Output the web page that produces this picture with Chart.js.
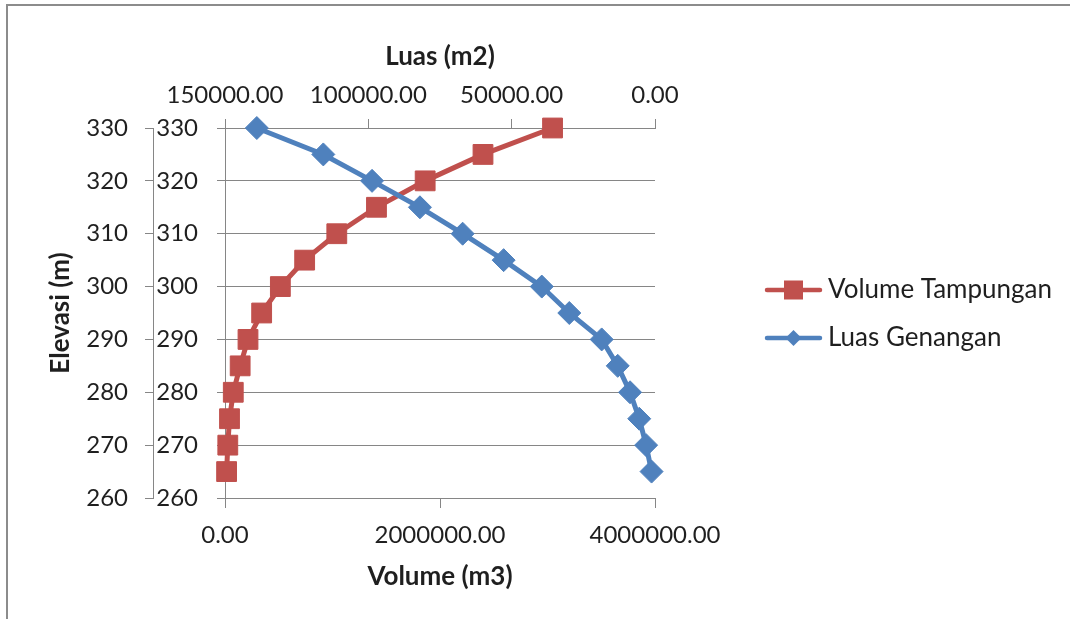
<!DOCTYPE html>
<html>
<head>
<meta charset="utf-8">
<title>Lengkung Kapasitas Waduk</title>
<script src="https://cdn.jsdelivr.net/npm/chart.js@4.4.0/dist/chart.umd.min.js"></script>
<style>
  html, body { margin: 0; padding: 0; background: #fff; }
  #wrap { position: relative; width: 1070px; height: 619px; overflow: hidden; }
  #frame { position: absolute; left: 6px; top: 4px; width: 1100px; height: 700px;
           border: 2px solid #8c8c8c; box-sizing: border-box; }
  #chart { position: absolute; left: 0; top: 0; }
</style>
</head>
<body>
<div id="wrap">
  <div id="frame"></div>
  <canvas id="chart" width="1070" height="619"></canvas>
</div>
<script>
// elevasi muka air (m) dan hasil perhitungan per elevasi
const elevasi = [265, 270, 275, 280, 285, 290, 295, 300, 305, 310, 315, 320, 325, 330];
const volumeTampungan = [15000, 26000, 42000, 77000, 141000, 214000, 341000, 515000, 741000,
                         1040000, 1409000, 1862000, 2400000, 3047000];
const luasGenangan = [1200, 3100, 5500, 8700, 13000, 18600, 29900, 39500, 52800,
                      67100, 82000, 98700, 115700, 138900];

// label sumbu
const elevasiTicks = [260, 270, 280, 290, 300, 310, 320, 330];
const volumeTicks = [0, 2000000, 4000000];
const luasTicks = [0, 50000, 100000, 150000];

const GRID = '#868686';
const TEXT = '#1f1f1f';
const RED = '#C0504D';
const BLUE = '#4F81BD';
const TICK_SIZE = 24;
const LEGEND_SIZE = 26;

Chart.defaults.font.family = 'Lato';
Chart.defaults.font.size = TICK_SIZE;
Chart.defaults.color = TEXT;

const titleFont = { family: 'Lato', size: 26, weight: 'bold' };

function fixTicks(values) {
  return scale => { scale.ticks = values.map(v => ({ value: v })); };
}

function fmt2(v) { return Number(v).toFixed(2); }

// small line + marker image used as the legend symbol
function legendMark(color, shape) {
  const c = document.createElement('canvas');
  c.width = 156;
  c.height = 26;
  const g = c.getContext('2d');
  g.strokeStyle = color;
  g.fillStyle = color;
  g.lineWidth = 4.5;
  g.lineCap = 'round';
  g.beginPath();
  g.moveTo(99, 13);
  g.lineTo(152, 13);
  g.stroke();
  const cx = 125.5;
  if (shape === 'rect') {
    g.fillRect(cx - 9.5, 3.5, 19, 19);
  } else {
    g.beginPath();
    g.moveTo(cx, 5);
    g.lineTo(cx + 8, 13);
    g.lineTo(cx, 21);
    g.lineTo(cx - 8, 13);
    g.closePath();
    g.fill();
  }
  return c;
}

const seriesNames = ['Volume Tampungan', 'Luas Genangan'];
const legendMarks = [legendMark(RED, 'rect'), legendMark(BLUE, 'diamond')];

// keep the plot's right edge fixed whatever the legend text measures
const probe = document.createElement('canvas').getContext('2d');
probe.font = LEGEND_SIZE + 'px Lato';
const legendTextW = Math.max(...seriesNames.map(n => probe.measureText(n).width));
const legendW = 22 + 138 + LEGEND_SIZE / 2 + legendTextW + 10;
const padRight = Math.max(0, 415 - legendW);

const ctx = document.getElementById('chart');

new Chart(ctx, {
  type: 'line',
  data: {
    datasets: [
      {
        label: seriesNames[0],
        data: elevasi.map((e, i) => ({ x: volumeTampungan[i], y: e })),
        xAxisID: 'x',
        yAxisID: 'y',
        borderColor: RED,
        backgroundColor: RED,
        borderWidth: 5,
        pointStyle: 'rect',
        pointRadius: 14,
        pointBorderWidth: 1,
        pointBorderColor: RED,
        pointBackgroundColor: RED,
        tension: 0,
        clip: false,
        order: 1
      },
      {
        label: seriesNames[1],
        data: elevasi.map((e, i) => ({ x: luasGenangan[i], y: e })),
        xAxisID: 'x2',
        yAxisID: 'y',
        borderColor: BLUE,
        backgroundColor: BLUE,
        borderWidth: 5,
        pointStyle: 'rectRot',
        pointRadius: 11.5,
        pointBorderWidth: 1,
        pointBorderColor: BLUE,
        pointBackgroundColor: BLUE,
        tension: 0,
        clip: false,
        order: 0
      }
    ]
  },
  options: {
    responsive: false,
    animation: false,
    layout: { padding: { left: 0, top: 9, right: padRight, bottom: 0 } },
    scales: {
      x: {
        type: 'linear',
        position: 'bottom',
        min: 0,
        max: 4000000,
        afterBuildTicks: fixTicks(volumeTicks),
        afterFit: s => { s.height = 121; },
        ticks: { callback: fmt2, padding: 13, maxRotation: 0, autoSkip: false, color: TEXT },
        grid: { drawOnChartArea: false, tickLength: 10, color: GRID },
        border: { color: GRID },
        title: { display: true, text: 'Volume (m3)', font: titleFont, color: TEXT,
                 padding: { top: 0, bottom: 27 } }
      },
      x2: {
        type: 'linear',
        position: 'top',
        reverse: true,
        min: 0,
        max: 150000,
        afterBuildTicks: fixTicks(luasTicks),
        afterFit: s => { s.height = 119; },
        ticks: { callback: fmt2, padding: 9, maxRotation: 0, autoSkip: false, color: TEXT },
        grid: { drawOnChartArea: false, tickLength: 9, color: GRID },
        border: { color: GRID },
        title: { display: true, text: 'Luas (m2)', font: titleFont, color: TEXT,
                 padding: { top: 32, bottom: 0 } }
      },
      y: {
        type: 'linear',
        position: 'left',
        weight: 0,
        min: 260,
        max: 330,
        afterBuildTicks: fixTicks(elevasiTicks),
        afterFit: s => { s.width = 72; },
        ticks: { padding: 19, color: TEXT },
        grid: { color: GRID, tickLength: 8 },
        border: { color: GRID }
      },
      y2: {
        type: 'linear',
        position: 'left',
        weight: 1,
        min: 260,
        max: 330,
        afterBuildTicks: fixTicks(elevasiTicks),
        afterFit: s => { s.width = 153; },
        ticks: { padding: 17, color: TEXT },
        grid: { drawOnChartArea: false, tickLength: 8, color: GRID },
        border: { color: GRID },
        title: { display: true, text: 'Elevasi (m)', font: titleFont, color: TEXT,
                 padding: { top: 45, bottom: 0 } }
      }
    },
    plugins: {
      tooltip: { enabled: false },
      legend: {
        position: 'right',
        maxWidth: 415,
        labels: {
          usePointStyle: true,
          pointStyleWidth: 138,
          padding: 22,
          color: TEXT,
          font: { size: LEGEND_SIZE },
          generateLabels: chart => chart.data.datasets.map((ds, i) => ({
            text: ds.label,
            fillStyle: ds.borderColor,
            strokeStyle: ds.borderColor,
            lineWidth: 0,
            pointStyle: legendMarks[i],
            fontColor: TEXT,
            hidden: false,
            datasetIndex: i
          }))
        }
      }
    }
  }
});
</script>
</body>
</html>
